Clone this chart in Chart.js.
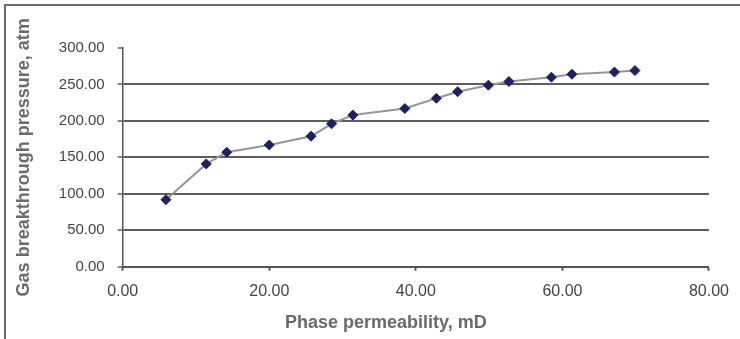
<!DOCTYPE html>
<html>
<head>
<meta charset="utf-8">
<script src="https://cdn.jsdelivr.net/npm/chart.js@4/dist/chart.umd.min.js"></script>
<style>
  html, body { margin: 0; padding: 0; background: #fff; }
  #wrap { position: relative; width: 740px; height: 339px; }
  #frame { position: absolute; left: 4px; top: 4px; right: 0; bottom: 0;
           border-left: 2px solid #6a6a6a; border-top: 2px solid #6a6a6a; pointer-events: none; }
  canvas { position: absolute; left: 0; top: 0; }
</style>
</head>
<body>
<div id="wrap">
  <canvas id="c" width="740" height="339"></canvas>
  <div id="frame"></div>
</div>
<script>
// Phase permeability, mD
const permeability = [5.9, 11.4, 14.2, 20.0, 25.7, 28.5, 31.4, 38.5, 42.8, 45.7, 49.9, 52.7, 58.5, 61.3, 67.1, 69.9];
// Gas breakthrough pressure, atm
const pressure = [92, 141, 157, 167, 179, 196, 208, 217, 231, 240, 249, 254, 260, 264, 267, 269];
const xTicks = [0, 20, 40, 60, 80];
const yTicks = [0, 50, 100, 150, 200, 250, 300];
const xTitle = 'Phase permeability, mD';
const yTitle = 'Gas breakthrough pressure, atm';

const points = permeability.map((x, i) => ({ x: x, y: pressure[i] }));
const FONT = "'Liberation Sans', Arial, sans-serif";

// The x axis title sits a little left of the plot centre in the original; draw it offset.
const xTitlePlugin = {
  id: 'xTitleOffset',
  afterDraw(chart) {
    const s = chart.scales.x;
    const ctx = chart.ctx;
    ctx.save();
    ctx.font = "bold 18px " + FONT;
    ctx.fillStyle = '#6a6a6a';
    ctx.textAlign = 'center';
    ctx.textBaseline = 'middle';
    ctx.fillText(xTitle, (s.left + s.right) / 2 - 30, s.bottom - 15.5);
    ctx.restore();
  }
};

new Chart(document.getElementById('c'), {
  type: 'scatter',
  data: {
    datasets: [{
      data: points,
      showLine: true,
      borderColor: '#969696',
      borderWidth: 2,
      pointStyle: 'rectRot',
      pointRadius: 5,
      pointHoverRadius: 5,
      pointBackgroundColor: '#1b1f6e',
      pointBorderColor: '#1b1f6e',
      pointBorderWidth: 1
    }]
  },
  plugins: [xTitlePlugin],
  options: {
    responsive: false,
    animation: false,
    events: [],
    layout: { padding: { left: 5, right: 31, top: 48, bottom: 0 } },
    plugins: { legend: { display: false }, tooltip: { enabled: false } },
    scales: {
      x: {
        type: 'linear',
        min: xTicks[0], max: xTicks[xTicks.length - 1],
        afterBuildTicks: s => { s.ticks = xTicks.map(v => ({ value: v })); },
        afterFit: s => { s.height = 72.3; },
        ticks: {
          color: '#444', padding: 11,
          font: { family: FONT, size: 16 },
          maxRotation: 0,
          callback: v => Number(v).toFixed(2)
        },
        grid: { drawOnChartArea: false, drawTicks: true, tickLength: 4, tickColor: '#555', tickWidth: 2 },
        border: { display: true, color: '#555', width: 2 },
        title: { display: false, text: xTitle }
      },
      y: {
        type: 'linear',
        min: yTicks[0], max: yTicks[yTicks.length - 1],
        afterBuildTicks: s => { s.ticks = yTicks.map(v => ({ value: v })); },
        afterFit: s => { s.width = 117.7; },
        ticks: {
          color: '#444', padding: 13,
          font: { family: FONT, size: 15 },
          callback: v => Number(v).toFixed(2)
        },
        grid: {
          drawOnChartArea: true, drawTicks: true, tickLength: 5,
          color: c => (c.tick && c.tick.value === 300) ? 'rgba(0,0,0,0)' : '#5e5e5e',
          lineWidth: 2, tickColor: '#5e5e5e', tickWidth: 1.5
        },
        border: { display: true, color: '#555', width: 1.5 },
        title: {
          display: true, text: yTitle, color: '#6a6a6a',
          font: { family: FONT, size: 18, weight: 'bold' },
          padding: { top: 8, bottom: 0 }
        }
      }
    }
  }
});
</script>
</body>
</html>
